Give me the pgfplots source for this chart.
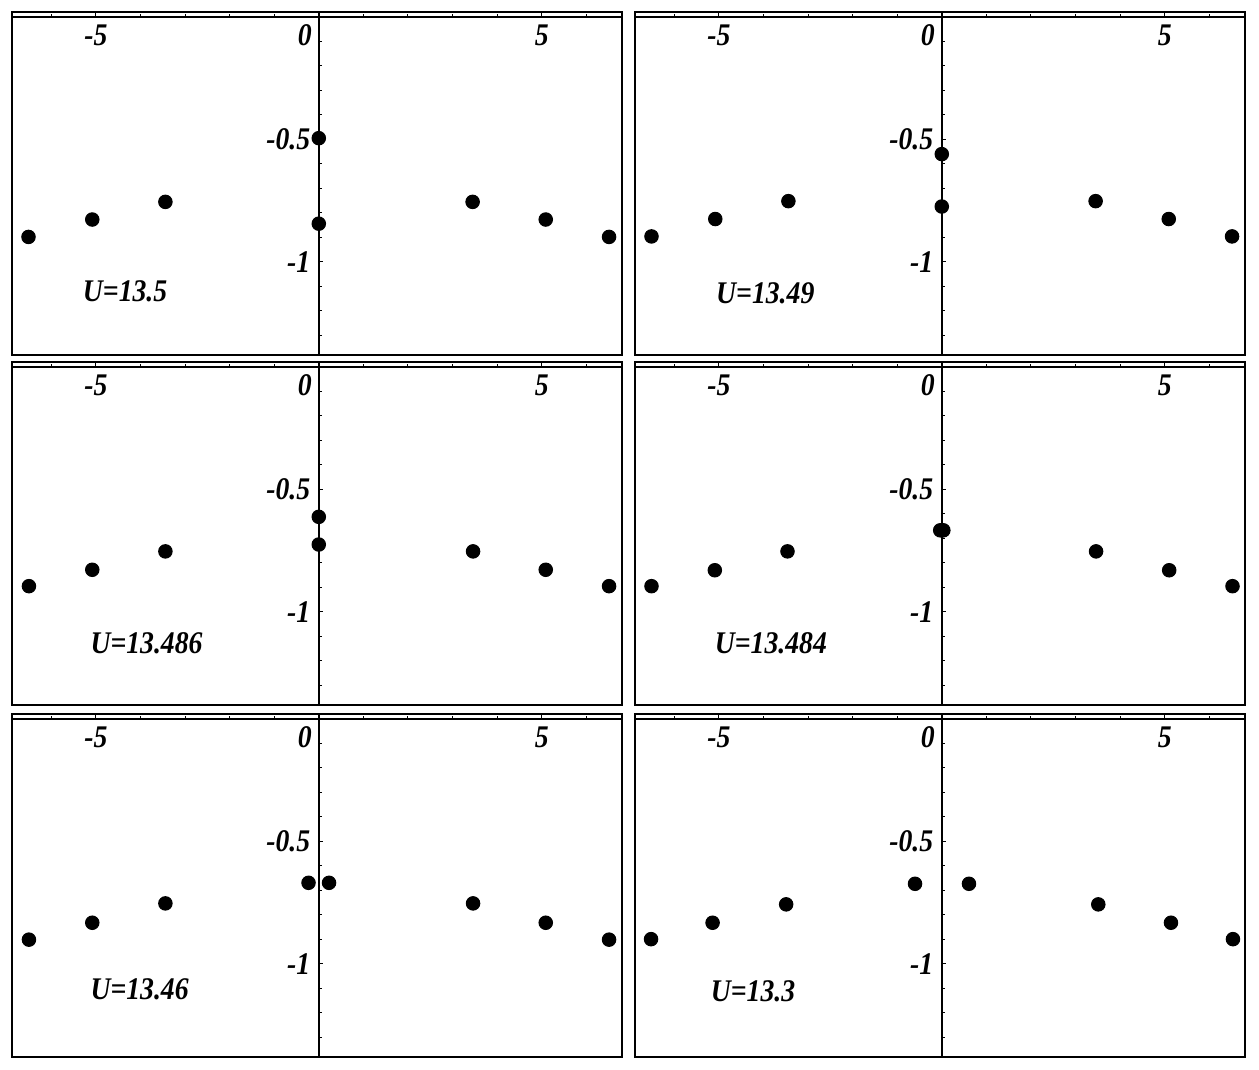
\documentclass[border=0pt]{standalone}
\usepackage{fontspec}
\setmainfont{Liberation Serif}[FakeStretch=0.88]
\usepackage{pgfplots}
\pgfplotsset{compat=1.18}
\tikzset{ulab/.style={anchor=base west, inner sep=0pt, font=\fontsize{12.6}{14}\selectfont\bfseries\itshape}}
\begin{document}
\begin{tikzpicture}
\useasboundingbox (0,0) rectangle (503.6pt,-428pt);
\pgfplotsset{
  panel/.style={
    scale only axis, width=244pt, height=137.2pt, anchor=north west,
    xmin=-6.88, xmax=6.8, ymin=-1.38, ymax=0.02,
    axis lines=middle,
    axis line style={-, line width=0.6pt},
    every inner x axis line/.append style={-},
    every inner y axis line/.append style={-},
    hide obscured x ticks=false,
    hide obscured y ticks=false,
    tick align=inside,
    major tick length=1.8pt, minor tick length=1.1pt,
    tick style={line width=0.4pt, black},
    xtick={-5,0,5},
    xticklabels={-5,\makebox[0pt][r]{0\hspace{2.8pt}},5},
    minor xtick={-6,-4,-3,-2,-1,1,2,3,4,6},
    ytick={-1,-0.5},
    yticklabels={-1,-0.5},
    minor ytick={-0.1,-0.2,-0.3,-0.4,-0.6,-0.7,-0.8,-0.9,-1.1,-1.2,-1.3},
    xticklabel style={anchor=north, inner sep=0pt, font=\fontsize{12.6}{14}\selectfont\bfseries\itshape},
    yticklabel style={anchor=east, inner sep=0pt, font=\fontsize{12.6}{14}\selectfont\bfseries\itshape},
    xticklabel shift=2.8pt,
    yticklabel shift=3.2pt,
    /pgf/number format/assume math mode=true,
    clip=false,
  },
  dots/.style={only marks, mark=*, mark size=2.7pt, black},
}
% Panel 1
\begin{axis}[panel, at={(4.8pt,-4.8pt)}]
\addplot[dots] coordinates {(-6.51,-0.898) (-5.08,-0.827) (-3.44,-0.755) (0,-0.495) (0,-0.844) (3.45,-0.755) (5.09,-0.827) (6.51,-0.898)};
\node[ulab] at (axis cs:-5.3,-1.16) {U=13.5};
\draw[line width=0.6pt] (rel axis cs:0,0) rectangle (rel axis cs:1,1);
\end{axis}
% Panel 2
\begin{axis}[panel, at={(254pt,-4.8pt)}]
\addplot[dots] coordinates {(-6.51,-0.896) (-5.08,-0.825) (-3.44,-0.752) (0,-0.560) (0,-0.774) (3.45,-0.752) (5.09,-0.825) (6.51,-0.896)};
\node[ulab] at (axis cs:-5.07,-1.17) {U=13.49};
\draw[line width=0.6pt] (rel axis cs:0,0) rectangle (rel axis cs:1,1);
\end{axis}
% Panel 3
\begin{axis}[panel, at={(4.8pt,-144.8pt)}]
\addplot[dots] coordinates {(-6.50,-0.895) (-5.08,-0.828) (-3.44,-0.753) (0,-0.612) (0,-0.725) (3.46,-0.753) (5.09,-0.828) (6.51,-0.895)};
\node[ulab] at (axis cs:-5.13,-1.17) {U=13.486};
\draw[line width=0.6pt] (rel axis cs:0,0) rectangle (rel axis cs:1,1);
\end{axis}
% Panel 4
\begin{axis}[panel, at={(254pt,-144.8pt)}]
\addplot[dots] coordinates {(-6.51,-0.895) (-5.09,-0.830) (-3.46,-0.753) (-0.035,-0.667) (0.035,-0.667) (3.46,-0.753) (5.10,-0.830) (6.52,-0.895)};
\node[ulab] at (axis cs:-5.10,-1.17) {U=13.484};
\draw[line width=0.6pt] (rel axis cs:0,0) rectangle (rel axis cs:1,1);
\end{axis}
% Panel 5
\begin{axis}[panel, at={(4.8pt,-285.6pt)}]
\addplot[dots] coordinates {(-6.50,-0.901) (-5.08,-0.832) (-3.44,-0.753) (-0.23,-0.669) (0.23,-0.669) (3.46,-0.753) (5.09,-0.832) (6.51,-0.901)};
\node[ulab] at (axis cs:-5.13,-1.146) {U=13.46};
\draw[line width=0.6pt] (rel axis cs:0,0) rectangle (rel axis cs:1,1);
\end{axis}
% Panel 6
\begin{axis}[panel, at={(254pt,-285.6pt)}]
\addplot[dots] coordinates {(-6.52,-0.899) (-5.14,-0.832) (-3.49,-0.757) (-0.60,-0.673) (0.61,-0.673) (3.51,-0.757) (5.14,-0.832) (6.53,-0.899)};
\node[ulab] at (axis cs:-5.19,-1.155) {U=13.3};
\draw[line width=0.6pt] (rel axis cs:0,0) rectangle (rel axis cs:1,1);
\end{axis}
\end{tikzpicture}
\end{document}
